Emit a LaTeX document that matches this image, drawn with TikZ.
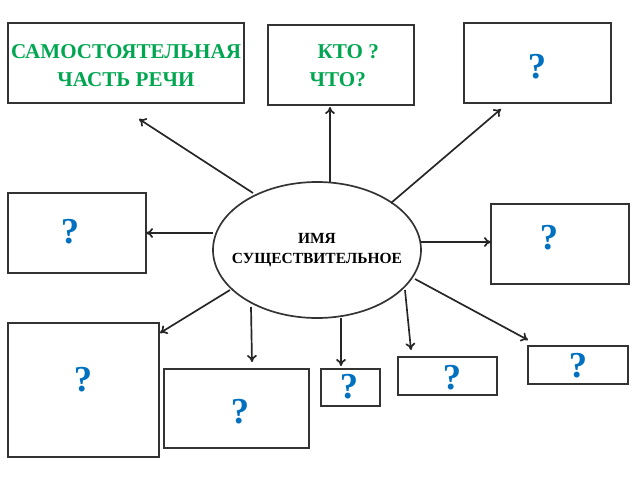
\documentclass[tikz,border=0pt]{standalone}
\usepackage{fontspec}
\setmainfont{Liberation Serif}
\usetikzlibrary{arrows.meta}
\definecolor{wordgreen}{RGB}{0,166,80}
\definecolor{askblue}{RGB}{0,112,192}
\tikzstyle{box} = [draw=black!80, line width=1.2pt, inner sep=0pt]
\tikzstyle{ask} = [text=askblue, font=\bfseries\fontsize{26}{28}\selectfont]
\tikzstyle{word} = [text=wordgreen, font=\bfseries\fontsize{15}{20}\selectfont, align=center]
\tikzstyle{arrow} = [line width=1.2pt, black!85, -{To[length=5pt,width=7pt]}]

\begin{document}
\begin{tikzpicture}[x=0.025cm, y=-0.025cm]
        \useasboundingbox (0,0) rectangle (640,480);
        % boxes
        \draw[box] (8,23) rectangle (244,103);
        \node[word] (Part) at (126,66) {САМОСТОЯТЕЛЬНАЯ\\ЧАСТЬ РЕЧИ};
        \draw[box] (268,25) rectangle (414,105);
        \node[word] (Who) at (343,66) {\ \ КТО ?\\ЧТО?\ \ \ };
        \draw[box] (464,23) rectangle (611,103);
        \node[ask] (QC) at (537,67) {?};
        \draw[box] (8,193) rectangle (146,273);
        \node[ask] (QD) at (70,232) {?};
        \draw[box] (491,204) rectangle (629,284);
        \node[ask] (QE) at (549,238) {?};
        \draw[box] (8,323) rectangle (159,457);
        \node[ask] (QF) at (83,380) {?};
        \draw[box] (164,369) rectangle (309,448);
        \node[ask] (QG) at (240,412) {?};
        \draw[box] (321,369) rectangle (380,406);
        \node[ask] (QH) at (349,387) {?};
        \draw[box] (398,357) rectangle (497,395);
        \node[ask] (QI) at (452,378) {?};
        \draw[box] (528,346) rectangle (628,384);
        \node[ask] (QJ) at (578,366) {?};

        % centre
        \node[align=center, font=\bfseries\fontsize{11}{14}\selectfont] (Noun) at (317,250) {ИМЯ\\СУЩЕСТВИТЕЛЬНОЕ};
        \draw[draw=black!80, line width=1.2pt] (Noun.center) ellipse [x radius=104, y radius=68];

        % arrow ends
        \coordinate (sD) at (213,233);
        \coordinate (sE) at (421,242);
        \coordinate (tPart) at (139,119);
        \coordinate (tWho) at (330,107);
        \coordinate (tC) at (501,109);
        \coordinate (tD) at (146,233);
        \coordinate (tE) at (491,242);
        \coordinate (tF) at (160,333);
        \coordinate (tG) at (252,362);
        \coordinate (tH) at (341,366);
        \coordinate (tI) at (411,350);
        \coordinate (tJ) at (528,340);

        \draw[arrow] (253,193) -- (tPart);
        \draw[arrow] (330,182) -- (tWho);
        \draw[arrow] (391,203) -- (tC);
        \draw[arrow] (sD) -- (tD);
        \draw[arrow] (sE) -- (tE);
        \draw[arrow] (230,290) -- (tF);
        \draw[arrow] (251,307) -- (tG);
        \draw[arrow] (341,318) -- (tH);
        \draw[arrow] (405,290) -- (tI);
        \draw[arrow] (415,279) -- (tJ);
\end{tikzpicture}
\end{document}
